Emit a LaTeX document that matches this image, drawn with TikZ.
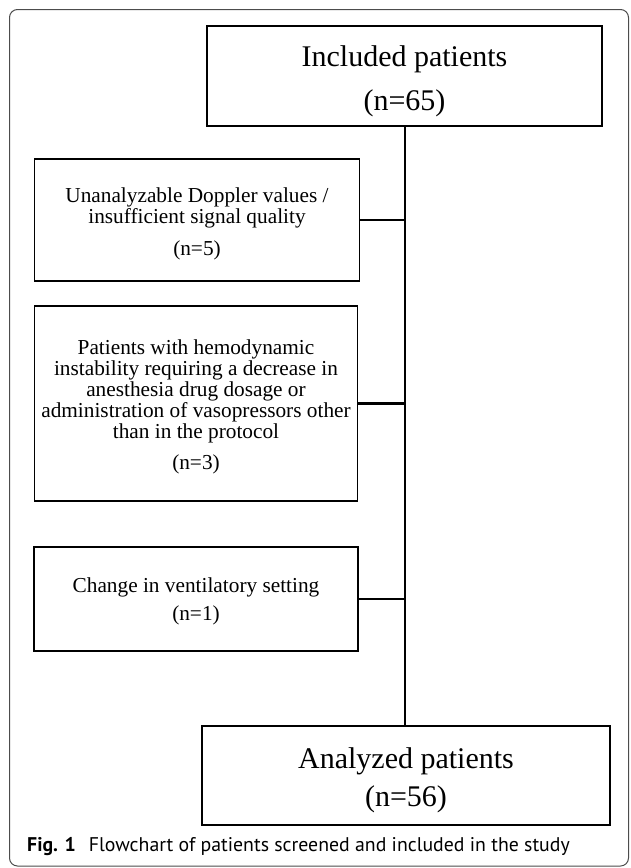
\documentclass[tikz,border=0pt]{standalone}
\usepackage{fontspec}
\setmainfont{Liberation Serif}
\newfontfamily\capfont{PT Sans}
\newcommand{\topstrut}[1]{\rule{0pt}{#1}}
\begin{document}
\begin{tikzpicture}[x=1pt,y=-1pt,
  box/.style={draw=black,line width=1.2pt,rectangle,inner sep=0pt,align=center,text=black},
  bigtxt/.style={font=\fontsize{30}{38}\selectfont},
  smalltxt/.style={font=\fontsize{21.3}{21}\selectfont},
  link/.style={draw=black,line width=2.7pt},
  frame/.style={draw=black!70,line width=1pt,rounded corners=8pt}]
\useasboundingbox (0,0) rectangle (630,868);
\draw[frame] (9.5,9.5) rectangle (628.5,866);
\node[box,bigtxt,minimum width=395pt,minimum height=100pt] (top) at (404.5,76)
  {\topstrut{31pt}Included patients\\[6pt](n=65)};
\node[box,smalltxt,minimum width=325pt,minimum height=122pt] (b1) at (197,220)
  {\topstrut{23pt}Unanalyzable Doppler values /\\insufficient signal quality\\[11pt](n=5)};
\node[box,smalltxt,minimum width=323pt,minimum height=195pt] (b2) at (196,403.5)
  {\topstrut{21pt}Patients with hemodynamic\\instability requiring a decrease in\\anesthesia drug dosage or\\administration of vasopressors other\\than in the protocol\\[10pt](n=3)};
\node[box,smalltxt,minimum width=324pt,minimum height=104pt] (b3) at (196,599)
  {\topstrut{19pt}Change in ventilatory setting\\[7pt](n=1)};
\node[box,bigtxt,minimum width=408pt,minimum height=99pt] (bot) at (406,775.5)
  {\topstrut{30pt}Analyzed patients\\(n=56)};
\coordinate (vt) at (405,126);
\coordinate (vb) at (405,726);
\draw[link] (top.south -| vt) -- (bot.north -| vb);
\draw[link] (b1.east) -- (b1.east -| vt);
\draw[link] (b2.east) -- (b2.east -| vt);
\draw[link] (b3.east) -- (b3.east -| vt);
\node[anchor=west,inner sep=0pt,font=\capfont\fontsize{19.8}{21}\selectfont] (cap) at (27,847)
  {\textbf{Fig. 1}\hspace{13pt}Flowchart of patients screened and included in the study};
\end{tikzpicture}
\end{document}
